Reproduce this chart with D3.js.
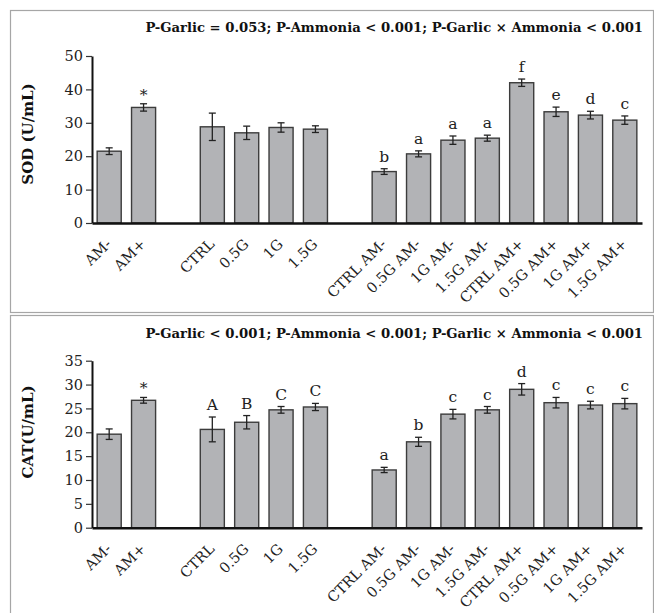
<!DOCTYPE html>
<html>
<head>
<meta charset="utf-8">
<script src="https://cdn.jsdelivr.net/npm/d3@7"></script>
<style>
  body { margin: 0; background: #fff; }
</style>
</head>
<body>
<svg width="654" height="613"></svg>
<script>
// Groups along the x axis
const ammoniaGroups = ["AM-", "AM+"];
const garlicGroups = ["CTRL", "0.5G", "1G", "1.5G"];
const interactionGroups = ["CTRL AM-", "0.5G AM-", "1G AM-", "1.5G AM-",
                           "CTRL AM+", "0.5G AM+", "1G AM+", "1.5G AM+"];
const categories = [...ammoniaGroups, ...garlicGroups, ...interactionGroups];

// SOD panel
const sodValues = [21.5, 34.6, 28.8, 27.0, 28.6, 28.1, 15.4, 20.7, 24.8, 25.4, 42.0, 33.3, 32.3, 30.8];
const sodErrors = [1.0, 1.1, 4.1, 2.0, 1.4, 1.0, 0.85, 0.9, 1.25, 0.9, 1.1, 1.4, 1.15, 1.25];
const sodLetters = ["", "*", "", "", "", "", "b", "a", "a", "a", "f", "e", "d", "c"];
const sodTicks = [0, 10, 20, 30, 40, 50];

// CAT panel
const catValues = [19.6, 26.7, 20.6, 22.1, 24.7, 25.3, 12.1, 18.0, 23.8, 24.7, 29.0, 26.2, 25.7, 26.0];
const catErrors = [1.1, 0.6, 2.6, 1.4, 0.7, 0.75, 0.55, 0.95, 1.0, 0.7, 1.2, 1.1, 0.8, 1.1];
const catLetters = ["", "*", "A", "B", "C", "C", "a", "b", "c", "c", "d", "c", "c", "c"];
const catTicks = [0, 5, 10, 15, 20, 25, 30, 35];

const serif = "DejaVu Serif, serif";
const svg = d3.select("svg");

// Shared x scale, with two blank slots between the groups
const x = d3.scaleBand()
  .domain([...ammoniaGroups, "gap1", ...garlicGroups, "gap2", ...interactionGroups])
  .range([92, 642])
  .paddingInner(0.3)
  .paddingOuter(0.15);

function drawPanel(p) {
  // Panel frame
  svg.append("rect")
     .attr("x", 10.5)
     .attr("y", p.top + 0.5)
     .attr("width", 643)
     .attr("height", p.height)
     .attr("fill", "none")
     .attr("stroke", "#a6a6a6")
     .attr("stroke-width", 1.2);

  // P-value title, right aligned
  svg.append("text")
     .attr("x", 643)
     .attr("y", p.titleY)
     .attr("text-anchor", "end")
     .attr("font-family", serif)
     .attr("font-weight", "bold")
     .attr("font-size", "13.2px")
     .attr("fill", "#111")
     .text(p.title);

  const y = d3.scaleLinear()
    .domain([0, p.max])
    .range([p.y0, p.y1]);

  // Bars
  const data = categories.map((c, i) => ({ c: c, v: p.values[i], e: p.errors[i], l: p.letters[i] }));
  const g = svg.append("g");

  g.selectAll("rect.bar")
   .data(data)
   .join("rect")
   .attr("class", "bar")
   .attr("x", d => x(d.c))
   .attr("y", d => y(d.v))
   .attr("width", x.bandwidth())
   .attr("height", d => y(0) - y(d.v))
   .attr("fill", "#b2b3b6")
   .attr("stroke", "#3c3c3c")
   .attr("stroke-width", 1.4);

  // Error bars
  const eb = g.selectAll("g.err")
    .data(data)
    .join("g")
    .attr("class", "err")
    .attr("stroke", "#222")
    .attr("stroke-width", 1.3);
  eb.append("line")
    .attr("x1", d => x(d.c) + x.bandwidth() / 2)
    .attr("x2", d => x(d.c) + x.bandwidth() / 2)
    .attr("y1", d => y(d.v - d.e))
    .attr("y2", d => y(d.v + d.e));
  eb.append("line")
    .attr("x1", d => x(d.c) + x.bandwidth() / 2 - 3.5)
    .attr("x2", d => x(d.c) + x.bandwidth() / 2 + 3.5)
    .attr("y1", d => y(d.v + d.e))
    .attr("y2", d => y(d.v + d.e));
  eb.append("line")
    .attr("x1", d => x(d.c) + x.bandwidth() / 2 - 3.5)
    .attr("x2", d => x(d.c) + x.bandwidth() / 2 + 3.5)
    .attr("y1", d => y(d.v - d.e))
    .attr("y2", d => y(d.v - d.e));

  // Significance letters
  g.selectAll("text.letter")
   .data(data)
   .join("text")
   .attr("class", "letter")
   .attr("x", d => x(d.c) + x.bandwidth() / 2)
   .attr("y", d => y(d.v + d.e) - (d.l === "*" ? 4 : 7))
   .attr("text-anchor", "middle")
   .attr("font-family", serif)
   .attr("font-size", "15.5px")
   .attr("fill", "#222")
   .text(d => d.l);

  // Y axis
  const yAxis = svg.append("g")
    .attr("transform", "translate(92,0)")
    .call(d3.axisLeft(y).tickValues(p.ticks).tickSize(6).tickSizeOuter(0).tickPadding(3));
  yAxis.select(".domain").attr("stroke", "#111").attr("stroke-width", 2);
  yAxis.selectAll(".tick line").attr("stroke", "#333").attr("stroke-width", 1.2);
  yAxis.selectAll(".tick text")
       .attr("font-family", serif)
       .attr("font-size", "14.5px")
       .attr("fill", "#222");

  // X axis with rotated labels
  const xAxis = svg.append("g")
    .attr("transform", `translate(0,${p.y0})`)
    .call(d3.axisBottom(x).tickValues(categories).tickSize(0).tickSizeOuter(0));
  xAxis.select(".domain").attr("stroke", "#111").attr("stroke-width", 2.5);
  xAxis.selectAll(".tick text")
       .attr("x", 0)
       .attr("y", 0)
       .attr("dy", 0)
       .attr("text-anchor", "end")
       .attr("transform", "translate(3,22) rotate(-45)")
       .attr("font-family", serif)
       .attr("font-size", "14.5px")
       .attr("fill", "#222");

  // Y axis title
  svg.append("text")
     .attr("transform", `translate(33,${p.labelY}) rotate(-90)`)
     .attr("text-anchor", "middle")
     .attr("font-family", serif)
     .attr("font-weight", "bold")
     .attr("font-size", "15px")
     .attr("fill", "#111")
     .text(p.yLabel);
}

drawPanel({
  top: 10, height: 302, titleY: 32,
  title: "P-Garlic = 0.053; P-Ammonia < 0.001; P-Garlic × Ammonia < 0.001",
  max: 50, y0: 223, y1: 56, ticks: sodTicks,
  values: sodValues, errors: sodErrors, letters: sodLetters,
  yLabel: "SOD (U/mL)", labelY: 134
});

drawPanel({
  top: 315, height: 300, titleY: 338,
  title: "P-Garlic < 0.001; P-Ammonia < 0.001; P-Garlic × Ammonia < 0.001",
  max: 35, y0: 527.7, y1: 360.7, ticks: catTicks,
  values: catValues, errors: catErrors, letters: catLetters,
  yLabel: "CAT(U/mL)", labelY: 432
});
</script>
</body>
</html>
